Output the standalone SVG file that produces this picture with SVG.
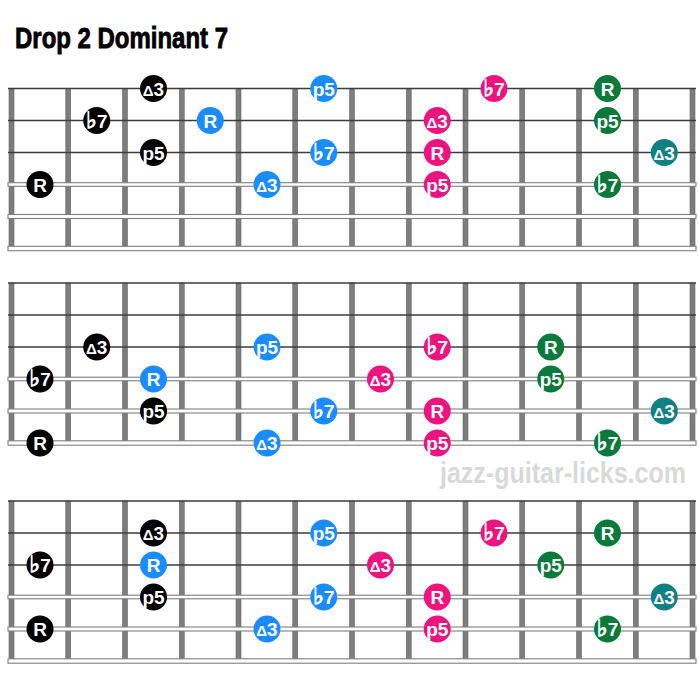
<svg xmlns="http://www.w3.org/2000/svg" xmlns:xlink="http://www.w3.org/1999/xlink" width="699" height="688" viewBox="0 0 699 688">
<style>
.fret{fill:#7d7d7d;stroke:#6a6a6a;stroke-width:0.6}
.str{stroke:#3c3c3c;stroke-width:1.4}
.wound{fill:#ffffff;stroke:#7f7f7f;stroke-width:1.1}
.dot text{fill:#ffffff;font-family:"Liberation Sans","DejaVu Sans",sans-serif;font-weight:bold;font-size:19px;text-anchor:middle}
.dot .fl{font-family:"DejaVu Sans",sans-serif;font-size:23px;stroke:#ffffff;stroke-width:1}
.dot .dl{font-size:15px}
.k circle{fill:#000000}
.b circle{fill:#1a8cff}
.m circle{fill:#ec157f}
.g circle{fill:#0a7a3c}
.t circle{fill:#118082}
.title{font-family:"Liberation Sans",Arial,sans-serif;font-weight:bold;font-size:24px;fill:#000;stroke:#000;stroke-width:0.7}
.wm{font-family:"Liberation Sans",Arial,sans-serif;font-weight:bold;font-size:25px;fill:#d9d9d9}
</style>
<defs>
<g id="frets">
<rect class="fret" x="9" y="0" width="5" height="160"/>
<rect class="fret" x="65.75" y="0" width="5" height="160"/>
<rect class="fret" x="122.5" y="0" width="5" height="160"/>
<rect class="fret" x="179.25" y="0" width="5" height="160"/>
<rect class="fret" x="236" y="0" width="5" height="160"/>
<rect class="fret" x="292.75" y="0" width="5" height="160"/>
<rect class="fret" x="349.5" y="0" width="5" height="160"/>
<rect class="fret" x="406.25" y="0" width="5" height="160"/>
<rect class="fret" x="463" y="0" width="5" height="160"/>
<rect class="fret" x="519.75" y="0" width="5" height="160"/>
<rect class="fret" x="576.5" y="0" width="5" height="160"/>
<rect class="fret" x="633.25" y="0" width="5" height="160"/>
<rect class="fret" x="690" y="0" width="5" height="160"/>
</g>
<g id="strings">
<line class="str" x1="8" y1="0" x2="696" y2="0"/>
<line class="str" x1="8" y1="32" x2="696" y2="32"/>
<line class="str" x1="8" y1="64" x2="696" y2="64"/>
<rect class="wound" x="8" y="94.2" width="688" height="3.6"/>
<rect class="wound" x="8" y="126" width="688" height="4"/>
<rect class="wound" x="8" y="157.8" width="688" height="4.4"/>
</g>
</defs>

<text class="title" transform="translate(15,48) scale(1,1.22)" x="0" y="0" textLength="213" lengthAdjust="spacingAndGlyphs">Drop 2 Dominant 7</text>

<g id="board1" transform="translate(0,88.5)">
<use xlink:href="#frets"/>
<use xlink:href="#strings"/>
</g>
<g id="board2" transform="translate(0,283)">
<use xlink:href="#frets"/>
<use xlink:href="#strings"/>
</g>
<g id="board3" transform="translate(0,501)">
<use xlink:href="#frets"/>
<use xlink:href="#strings"/>
</g>

<text class="wm" transform="translate(440,483) scale(1,1.2)" x="0" y="0" textLength="246" lengthAdjust="spacingAndGlyphs">jazz-guitar-licks.com</text>

<g id="connectors"></g>

<!-- Board 1 -->
<g id="b1-s1-k" class="dot k"><circle cx="153.5" cy="88.5" r="13.5"/><text x="153.5" y="95.5"><tspan class="dl">Δ</tspan>3</text></g>
<g id="b1-s1-b" class="dot b"><circle cx="323.75" cy="88.5" r="13.5"/><text x="323.75" y="95.5">p5</text></g>
<g id="b1-s1-m" class="dot m"><circle cx="494" cy="88.5" r="13.5"/><text x="494" y="95.5"><tspan class="fl">♭</tspan>7</text></g>
<g id="b1-s1-g" class="dot g"><circle cx="607.5" cy="88.5" r="13.5"/><text x="607.5" y="95.5">R</text></g>

<g id="b1-s2-k" class="dot k"><circle cx="96.75" cy="120.5" r="13.5"/><text x="96.75" y="127.5"><tspan class="fl">♭</tspan>7</text></g>
<g id="b1-s2-b" class="dot b"><circle cx="210.25" cy="120.5" r="13.5"/><text x="210.25" y="127.5">R</text></g>
<g id="b1-s2-m" class="dot m"><circle cx="437.25" cy="120.5" r="13.5"/><text x="437.25" y="127.5"><tspan class="dl">Δ</tspan>3</text></g>
<g id="b1-s2-g" class="dot g"><circle cx="607.5" cy="120.5" r="13.5"/><text x="607.5" y="127.5">p5</text></g>

<g id="b1-s3-k" class="dot k"><circle cx="153.5" cy="152.5" r="13.5"/><text x="153.5" y="159.5">p5</text></g>
<g id="b1-s3-b" class="dot b"><circle cx="323.75" cy="152.5" r="13.5"/><text x="323.75" y="159.5"><tspan class="fl">♭</tspan>7</text></g>
<g id="b1-s3-m" class="dot m"><circle cx="437.25" cy="152.5" r="13.5"/><text x="437.25" y="159.5">R</text></g>
<g id="b1-s3-t" class="dot t"><circle cx="664.25" cy="152.5" r="13.5"/><text x="664.25" y="159.5"><tspan class="dl">Δ</tspan>3</text></g>

<g id="b1-s4-k" class="dot k"><circle cx="40" cy="184.5" r="13.5"/><text x="40" y="191.5">R</text></g>
<g id="b1-s4-b" class="dot b"><circle cx="267" cy="184.5" r="13.5"/><text x="267" y="191.5"><tspan class="dl">Δ</tspan>3</text></g>
<g id="b1-s4-m" class="dot m"><circle cx="437.25" cy="184.5" r="13.5"/><text x="437.25" y="191.5">p5</text></g>
<g id="b1-s4-g" class="dot g"><circle cx="607.5" cy="184.5" r="13.5"/><text x="607.5" y="191.5"><tspan class="fl">♭</tspan>7</text></g>

<!-- Board 2 -->
<g id="b2-s3-k" class="dot k"><circle cx="96.75" cy="347" r="13.5"/><text x="96.75" y="354"><tspan class="dl">Δ</tspan>3</text></g>
<g id="b2-s3-b" class="dot b"><circle cx="267" cy="347" r="13.5"/><text x="267" y="354">p5</text></g>
<g id="b2-s3-m" class="dot m"><circle cx="437.25" cy="347" r="13.5"/><text x="437.25" y="354"><tspan class="fl">♭</tspan>7</text></g>
<g id="b2-s3-g" class="dot g"><circle cx="550.75" cy="347" r="13.5"/><text x="550.75" y="354">R</text></g>

<g id="b2-s4-k" class="dot k"><circle cx="40" cy="379" r="13.5"/><text x="40" y="386"><tspan class="fl">♭</tspan>7</text></g>
<g id="b2-s4-b" class="dot b"><circle cx="153.5" cy="379" r="13.5"/><text x="153.5" y="386">R</text></g>
<g id="b2-s4-m" class="dot m"><circle cx="380.5" cy="379" r="13.5"/><text x="380.5" y="386"><tspan class="dl">Δ</tspan>3</text></g>
<g id="b2-s4-g" class="dot g"><circle cx="550.75" cy="379" r="13.5"/><text x="550.75" y="386">p5</text></g>

<g id="b2-s5-k" class="dot k"><circle cx="153.5" cy="411" r="13.5"/><text x="153.5" y="418">p5</text></g>
<g id="b2-s5-b" class="dot b"><circle cx="323.75" cy="411" r="13.5"/><text x="323.75" y="418"><tspan class="fl">♭</tspan>7</text></g>
<g id="b2-s5-m" class="dot m"><circle cx="437.25" cy="411" r="13.5"/><text x="437.25" y="418">R</text></g>
<g id="b2-s5-t" class="dot t"><circle cx="664.25" cy="411" r="13.5"/><text x="664.25" y="418"><tspan class="dl">Δ</tspan>3</text></g>

<g id="b2-s6-k" class="dot k"><circle cx="40" cy="443" r="13.5"/><text x="40" y="450">R</text></g>
<g id="b2-s6-b" class="dot b"><circle cx="267" cy="443" r="13.5"/><text x="267" y="450"><tspan class="dl">Δ</tspan>3</text></g>
<g id="b2-s6-m" class="dot m"><circle cx="437.25" cy="443" r="13.5"/><text x="437.25" y="450">p5</text></g>
<g id="b2-s6-g" class="dot g"><circle cx="607.5" cy="443" r="13.5"/><text x="607.5" y="450"><tspan class="fl">♭</tspan>7</text></g>

<!-- Board 3 -->
<g id="b3-s2-k" class="dot k"><circle cx="153.5" cy="533" r="13.5"/><text x="153.5" y="540"><tspan class="dl">Δ</tspan>3</text></g>
<g id="b3-s2-b" class="dot b"><circle cx="323.75" cy="533" r="13.5"/><text x="323.75" y="540">p5</text></g>
<g id="b3-s2-m" class="dot m"><circle cx="494" cy="533" r="13.5"/><text x="494" y="540"><tspan class="fl">♭</tspan>7</text></g>
<g id="b3-s2-g" class="dot g"><circle cx="607.5" cy="533" r="13.5"/><text x="607.5" y="540">R</text></g>

<g id="b3-s3-k" class="dot k"><circle cx="40" cy="565" r="13.5"/><text x="40" y="572"><tspan class="fl">♭</tspan>7</text></g>
<g id="b3-s3-b" class="dot b"><circle cx="153.5" cy="565" r="13.5"/><text x="153.5" y="572">R</text></g>
<g id="b3-s3-m" class="dot m"><circle cx="380.5" cy="565" r="13.5"/><text x="380.5" y="572"><tspan class="dl">Δ</tspan>3</text></g>
<g id="b3-s3-g" class="dot g"><circle cx="550.75" cy="565" r="13.5"/><text x="550.75" y="572">p5</text></g>

<g id="b3-s4-k" class="dot k"><circle cx="153.5" cy="597" r="13.5"/><text x="153.5" y="604">p5</text></g>
<g id="b3-s4-b" class="dot b"><circle cx="323.75" cy="597" r="13.5"/><text x="323.75" y="604"><tspan class="fl">♭</tspan>7</text></g>
<g id="b3-s4-m" class="dot m"><circle cx="437.25" cy="597" r="13.5"/><text x="437.25" y="604">R</text></g>
<g id="b3-s4-t" class="dot t"><circle cx="664.25" cy="597" r="13.5"/><text x="664.25" y="604"><tspan class="dl">Δ</tspan>3</text></g>

<g id="b3-s5-k" class="dot k"><circle cx="40" cy="629" r="13.5"/><text x="40" y="636">R</text></g>
<g id="b3-s5-b" class="dot b"><circle cx="267" cy="629" r="13.5"/><text x="267" y="636"><tspan class="dl">Δ</tspan>3</text></g>
<g id="b3-s5-m" class="dot m"><circle cx="437.25" cy="629" r="13.5"/><text x="437.25" y="636">p5</text></g>
<g id="b3-s5-g" class="dot g"><circle cx="607.5" cy="629" r="13.5"/><text x="607.5" y="636"><tspan class="fl">♭</tspan>7</text></g>
</svg>
